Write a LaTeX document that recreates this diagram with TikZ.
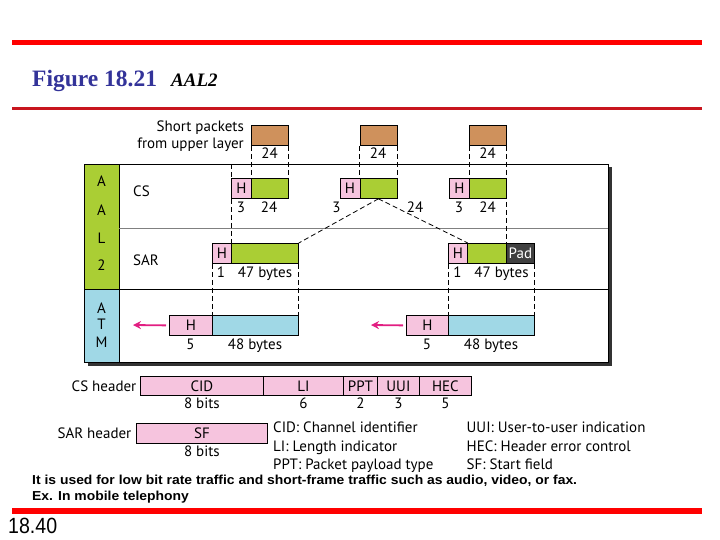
\documentclass[tikz,border=0pt]{standalone}
\usepackage{fontspec}
\setmainfont{Liberation Serif}
\setsansfont{PT Sans}
\newfontfamily\arialfont{Liberation Sans}
\usetikzlibrary{arrows.meta,positioning}
\definecolor{hpink}{RGB}{246,196,222}
\definecolor{cgreen}{RGB}{170,206,52}
\definecolor{pbrown}{RGB}{207,145,92}
\definecolor{cblue}{RGB}{160,216,230}
\definecolor{padgray}{RGB}{64,64,64}
\definecolor{arrmag}{RGB}{226,30,130}
\definecolor{titleblue}{RGB}{51,51,153}
\definecolor{darkred}{RGB}{200,22,30}

\begin{document}
\begin{tikzpicture}[x=1pt,y=-1pt,
  every node/.style={font=\sffamily\fontsize{15}{17}\selectfont,inner sep=0pt},
  fld/.style={draw,line width=0.8pt,minimum height=20pt,anchor=north west,inner sep=0pt},
  hbox/.style={fld,fill=hpink,minimum width=20pt},
  gbox/.style={fld,fill=cgreen},
  pkt/.style={fld,fill=pbrown,minimum width=37pt},
  cell/.style={fld,fill=cblue},
  lbl/.style={anchor=base},
  dsh/.style={line width=0.8pt,dash pattern=on 5pt off 3pt},
  toatm/.style={arrmag,line width=1.8pt,-{Stealth[length=8pt,width=8pt]}}]
\useasboundingbox (0,0) rectangle (720,540);
% page rules and title
\fill[red] (12,40) rectangle (702,45.5);
\fill[darkred] (12,107) rectangle (702,110);
\node[anchor=base west,font=\rmfamily\bfseries\fontsize{23.5}{25}\selectfont,text=titleblue] (fig) at (32,87) {Figure 18.21};
\node[anchor=base west,font=\rmfamily\bfseries\itshape\fontsize{19}{21}\selectfont] (ttl) at (171,87) {AAL2};

% layer frame with shadow
\fill[black!80] (88,167) rectangle (612,366);
\node[draw,fill=white,line width=0.8pt,minimum width=524pt,minimum height=198pt,anchor=north west] (frm) at (84,164) {};
\draw[fill=cgreen,line width=0.8pt] (84,164) rectangle (119,289);
\draw[fill=cblue,line width=0.8pt] (84,289) rectangle (119,362);
\draw[gray,line width=1pt] (119,228.5) -- (608,228.5);
\draw[line width=0.8pt] (84,289) -- (608,289);
\node (ca1) at (101.5,181.5) {A};
\node (ca2) at (101.5,210) {A};
\node (cl) at (101.5,238) {L};
\node (c2) at (101.5,265) {2};
\node (ta) at (101.5,308) {A};
\node (tt) at (101.5,324) {T};
\node (tm) at (101.5,342) {M};
\node[anchor=base west] (cs) at (133,196.5) {CS};
\node[anchor=base west] (sar) at (133,265) {SAR};

% short packets from upper layer
\node[anchor=base east] (sp1) at (244,131.5) {Short packets};
\node[anchor=base east] (sp2) at (244,148.5) {from upper layer};
\node[pkt] (p1) at (251,125) {};
\node[pkt] (p2) at (359.5,125) {};
\node[pkt] (p3) at (469,125) {};
\node[lbl] (n1) at (269.5,159) {24};
\node[lbl] (n2) at (378,159) {24};
\node[lbl] (n3) at (487.5,159) {24};

% CS row
\node[hbox] (h1) at (231,178) {H};
\node[gbox,minimum width=37pt] (g1) at (251,178) {};
\node[hbox] (h2) at (339.5,178) {H};
\node[gbox,minimum width=37pt] (g2) at (359.5,178) {};
\node[hbox] (h3) at (449,178) {H};
\node[gbox,minimum width=37pt] (g3) at (469,178) {};
\node[lbl] (k1) at (241,212) {3};
\node[lbl] (m1) at (269,212) {24};
\node[lbl] (k2) at (336.5,212) {3};
\node[lbl] (m2) at (415,212) {24};
\node[lbl] (k3) at (459,212) {3};
\node[lbl] (m3) at (487.5,212) {24};

% SAR row
\node[hbox,minimum width=19pt] (s1h) at (212,243) {H};
\node[gbox,minimum width=67pt] (s1g) at (231,243) {};
\node[hbox,minimum width=19pt] (s2h) at (448,243) {H};
\node[gbox,minimum width=39pt] (s2g) at (467,243) {};
\node[fld,fill=padgray,text=white,minimum width=28pt] (s2p) at (506,243) {Pad};
\node[lbl] (q1) at (221,277) {1};
\node[lbl] (r1) at (265,277) {47 bytes};
\node[lbl] (q2) at (457.5,277) {1};
\node[lbl] (r2) at (501.5,277) {47 bytes};

% ATM row
\node[hbox,minimum width=43pt] (a1h) at (169,315) {H};
\node[cell,minimum width=86pt] (a1b) at (212,315) {};
\node[hbox,minimum width=42pt] (a2h) at (406,315) {H};
\node[cell,minimum width=86pt] (a2b) at (448,315) {};
\node[lbl] (u1) at (190.5,349) {5};
\node[lbl] (v1) at (255,349) {48 bytes};
\node[lbl] (u2) at (427,349) {5};
\node[lbl] (v2) at (491,349) {48 bytes};
\coordinate (e1) at (133,325);
\coordinate (e2) at (371,325);
\draw[toatm] ([xshift=-3pt]a1h.west) -- (e1);
\draw[toatm] ([xshift=-3pt]a2h.west) -- (e2);

% dashed guides
\draw[dsh] (p1.south west) -- (g1.north west);
\draw[dsh] (p1.south east) -- (g1.north east);
\draw[dsh] (h1.north west |- frm.north) -- (h1.north west);
\draw[dsh] (h1.south west) -- (s1g.north west);
\draw[dsh] (p2.south west) -- (g2.north west);
\draw[dsh] (p2.south east) -- (g2.north east);
\draw[dsh] (g2.south) -- (s1g.north east);
\draw[dsh] (g2.south) -- (s2h.north east);
\draw[dsh] (p3.south west) -- (g3.north west);
\draw[dsh] (p3.south east) -- (s2g.north east);
\draw[dsh] (s1h.south west) -- (a1b.north west);
\draw[dsh] (s1g.south east) -- (a1b.north east);
\draw[dsh] (s2h.south west) -- (a2b.north west);
\draw[dsh] (s2p.south east) -- (a2b.north east);

% header formats
\node[anchor=base east] (csh) at (136.5,391) {CS header};
\node[hbox,minimum width=123pt,minimum height=19pt] (cid) at (140,376) {CID};
\node[hbox,minimum width=80pt,minimum height=19pt] (li) at (263,376) {LI};
\node[hbox,minimum width=34pt,minimum height=19pt] (ppt) at (343,376) {PPT};
\node[hbox,minimum width=42pt,minimum height=19pt] (uui) at (377,376) {UUI};
\node[hbox,minimum width=52pt,minimum height=19pt] (hec) at (419,376) {HEC};
\node[lbl] (bcid) at (cid.south |- 0,408) {8 bits};
\node[lbl] (bli) at (li.south |- 0,408) {6};
\node[lbl] (bppt) at (ppt.south |- 0,408) {2};
\node[lbl] (buui) at (uui.south |- 0,408) {3};
\node[lbl] (bhec) at (hec.south |- 0,408) {5};
\node[anchor=base east] (sarh) at (131.5,438) {SAR header};
\node[hbox,minimum width=131pt] (sf) at (136,423) {SF};
\node[lbl] (bsf) at (sf.south |- 0,456.5) {8 bits};

% legend
\node[anchor=base west] (lg1) at (273,432) {CID: Channel identifier};
\node[anchor=base west] (lg2) at (273,451) {LI: Length indicator};
\node[anchor=base west] (lg3) at (273,469) {PPT: Packet payload type};
\node[anchor=base west] (lg4) at (466.5,432) {UUI: User-to-user indication};
\node[anchor=base west] (lg5) at (466.5,451) {HEC: Header error control};
\node[anchor=base west] (lg6) at (466.5,469) {SF: Start field};

% notes and page number
\node[anchor=base west,font=\arialfont\bfseries\fontsize{13}{15}\selectfont] (note1) at (32,484.5) {\scalebox{1.07}[1]{It is used for low bit rate traffic and short-frame traffic such as audio, video, or fax.}};
\node[anchor=base west,font=\arialfont\bfseries\fontsize{13}{15}\selectfont] (note2) at (32,500) {\scalebox{1.07}[1]{Ex. In mobile telephony}};
\fill[red] (12,508) rectangle (702,513.5);
\node[anchor=base west,font=\arialfont\fontsize{22}{24}\selectfont] (pg) at (8,533) {\scalebox{0.89}[1]{18.40}};
\end{tikzpicture}
\end{document}
